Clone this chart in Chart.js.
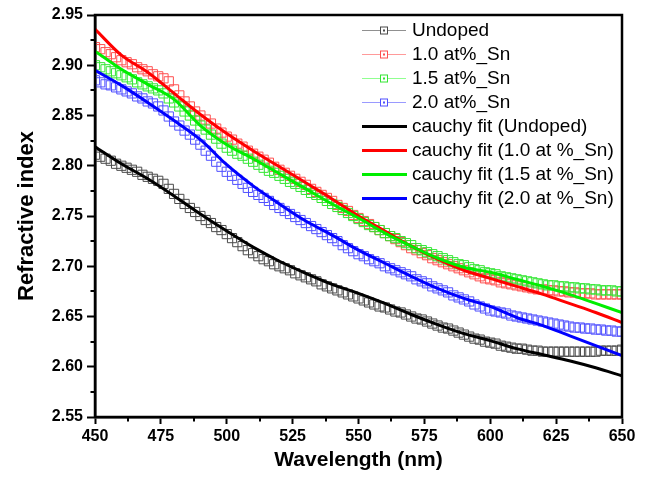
<!DOCTYPE html>
<html>
<head>
<meta charset="utf-8">
<title>Refractive index</title>
<script src="https://cdn.jsdelivr.net/npm/chart.js@4.4.0/dist/chart.umd.min.js"></script>
<style>
  html, body { margin: 0; padding: 0; background: #fff; }
  .chart-wrap { width: 650px; height: 477px; position: relative; }
</style>
</head>
<body>
<div class="chart-wrap"><canvas class="js-graph"></canvas></div>
<script>
'use strict';

// measured data, every 2 nm
const wavelengths = [
  450,452,454,456,458,460,462,464,466,468,470,472,474,476,478,480,482,484,486,488,
  490,492,494,496,498,500,502,504,506,508,510,512,514,516,518,520,522,524,526,528,
  530,532,534,536,538,540,542,544,546,548,550,552,554,556,558,560,562,564,566,568,
  570,572,574,576,578,580,582,584,586,588,590,592,594,596,598,600,602,604,606,608,
  610,612,614,616,618,620,622,624,626,628,630,632,634,636,638,640,642,644,646,648,650
];

const undoped = [
  2.811,2.809,2.807,2.805,2.802,2.800,2.798,2.796,2.794,2.791,2.789,2.787,2.785,2.782,2.777,2.772,2.767,2.762,2.758,2.754,
  2.750,2.746,2.743,2.739,2.736,2.732,2.728,2.724,2.720,2.716,2.713,2.710,2.707,2.705,2.702,2.700,2.698,2.696,2.693,2.691,
  2.689,2.687,2.685,2.682,2.680,2.678,2.676,2.674,2.672,2.670,2.668,2.666,2.664,2.662,2.660,2.659,2.657,2.655,2.654,2.652,
  2.650,2.648,2.647,2.645,2.643,2.641,2.639,2.638,2.636,2.634,2.632,2.630,2.628,2.627,2.625,2.624,2.623,2.621,2.620,2.619,
  2.618,2.618,2.617,2.616,2.616,2.615,2.615,2.615,2.615,2.615,2.615,2.615,2.615,2.615,2.615,2.615,2.616,2.616,2.616,2.616,2.617
];

const sn10 = [
  2.918,2.916,2.913,2.911,2.908,2.905,2.903,2.901,2.898,2.896,2.894,2.891,2.889,2.887,2.884,2.876,2.870,2.864,2.859,2.854,
  2.850,2.846,2.842,2.837,2.833,2.829,2.826,2.822,2.819,2.815,2.812,2.809,2.806,2.803,2.799,2.796,2.793,2.790,2.787,2.784,
  2.781,2.777,2.774,2.771,2.768,2.765,2.761,2.758,2.755,2.751,2.748,2.745,2.742,2.739,2.736,2.733,2.730,2.727,2.724,2.721,
  2.718,2.716,2.713,2.711,2.708,2.706,2.704,2.702,2.700,2.698,2.696,2.694,2.692,2.690,2.688,2.687,2.686,2.684,2.683,2.682,
  2.681,2.680,2.679,2.678,2.677,2.677,2.676,2.676,2.675,2.675,2.674,2.674,2.673,2.673,2.673,2.672,2.672,2.672,2.672,2.672,2.672
];

const sn15 = [
  2.900,2.898,2.896,2.894,2.892,2.890,2.888,2.886,2.883,2.881,2.879,2.877,2.875,2.872,2.867,2.863,2.859,2.854,2.850,2.845,
  2.840,2.836,2.831,2.827,2.822,2.818,2.815,2.812,2.810,2.807,2.804,2.801,2.798,2.795,2.793,2.790,2.787,2.784,2.782,2.779,
  2.776,2.773,2.771,2.768,2.765,2.762,2.759,2.756,2.753,2.750,2.747,2.744,2.741,2.739,2.736,2.733,2.730,2.728,2.725,2.723,
  2.721,2.718,2.716,2.714,2.712,2.710,2.708,2.706,2.704,2.702,2.701,2.699,2.697,2.696,2.694,2.693,2.692,2.690,2.689,2.688,
  2.687,2.686,2.685,2.684,2.683,2.682,2.681,2.681,2.680,2.680,2.679,2.679,2.678,2.678,2.677,2.677,2.676,2.676,2.676,2.675,2.675
];

const sn20 = [
  2.885,2.883,2.881,2.880,2.878,2.876,2.874,2.872,2.869,2.867,2.864,2.862,2.859,2.855,2.849,2.844,2.840,2.835,2.831,2.826,
  2.821,2.815,2.810,2.804,2.799,2.794,2.790,2.786,2.782,2.778,2.774,2.771,2.768,2.765,2.761,2.758,2.755,2.752,2.749,2.746,
  2.743,2.740,2.737,2.734,2.731,2.728,2.725,2.721,2.718,2.715,2.712,2.710,2.707,2.705,2.703,2.700,2.698,2.696,2.694,2.692,
  2.690,2.687,2.685,2.683,2.680,2.678,2.676,2.674,2.671,2.669,2.667,2.665,2.662,2.660,2.658,2.656,2.655,2.654,2.653,2.651,
  2.650,2.649,2.648,2.647,2.646,2.645,2.644,2.643,2.642,2.641,2.640,2.639,2.639,2.638,2.638,2.637,2.637,2.636,2.636,2.635,2.635
];

// cauchy fits, every 10 nm
const fitWavelengths = [450,460,470,480,490,500,510,520,530,540,550,560,570,580,590,600,610,620,630,640,650];
const fitUndoped = [2.819,2.802,2.787,2.770,2.752,2.735,2.719,2.705,2.693,2.682,2.673,2.663,2.652,2.642,2.633,2.626,2.618,2.612,2.606,2.599,2.591];
const fitSn10    = [2.936,2.910,2.893,2.872,2.851,2.832,2.815,2.799,2.783,2.767,2.750,2.735,2.720,2.707,2.696,2.688,2.680,2.672,2.663,2.654,2.644];
const fitSn15    = [2.914,2.896,2.881,2.866,2.840,2.821,2.807,2.792,2.777,2.762,2.748,2.733,2.720,2.708,2.699,2.694,2.687,2.680,2.672,2.663,2.654];
const fitSn20    = [2.895,2.880,2.863,2.845,2.826,2.801,2.780,2.762,2.745,2.731,2.716,2.703,2.690,2.678,2.668,2.660,2.649,2.641,2.631,2.621,2.611];

const xMinorTicks = [462.5,487.5,512.5,537.5,562.5,587.5,612.5,637.5];
const yMinorTicks = [2.575,2.625,2.675,2.725,2.775,2.825,2.875,2.925];

const FONT = '"Liberation Sans", Arial, Helvetica, sans-serif';

const toPoints = function(xs, ys) {
    return xs.map((x, i) => ({x: x, y: ys[i]}));
};

const markerSet = function(label, values, color, legendColor, order) {
    return {
        label: label,
        data: toPoints(wavelengths, values),
        showLine: false,
        pointStyle: 'rect',
        pointRadius: 6.5,
        pointBorderWidth: 1,
        pointBorderColor: color,
        pointBackgroundColor: 'rgba(0,0,0,0)',
        borderColor: color,
        legendColor: legendColor,
        legendKind: 'marker',
        clip: 0,
        order: order
    };
};

const fitSet = function(label, values, color, order) {
    return {
        label: label,
        data: toPoints(fitWavelengths, values),
        borderColor: color,
        borderWidth: 3,
        pointRadius: 0,
        cubicInterpolationMode: 'monotone',
        legendColor: color,
        legendKind: 'line',
        order: order
    };
};

// extra axis bits: full frame, minor ticks, legend in the top right corner
const decorPlugin = {
    id: 'decor',
    afterDatasetsDraw(chart) {
        const ctx = chart.ctx;
        const area = chart.chartArea;
        const xs = chart.scales.x;
        const ys = chart.scales.y;
        ctx.save();
        ctx.strokeStyle = '#000';
        ctx.lineWidth = 2.5;
        ctx.strokeRect(area.left, area.top, area.right - area.left, area.bottom - area.top);
        ctx.lineWidth = 2;
        ctx.beginPath();
        for (const v of xMinorTicks) {
            const px = Math.round(xs.getPixelForValue(v));
            ctx.moveTo(px, area.bottom);
            ctx.lineTo(px, area.bottom + 4.5);
        }
        for (const v of yMinorTicks) {
            const py = Math.round(ys.getPixelForValue(v));
            ctx.moveTo(area.left, py);
            ctx.lineTo(area.left - 4.5, py);
        }
        ctx.stroke();

        // legend
        const x0 = area.right - 260;
        const y0 = area.top + 15;
        ctx.font = '19px ' + FONT;
        ctx.textBaseline = 'middle';
        ctx.textAlign = 'left';
        chart.data.datasets.forEach((ds, i) => {
            const y = y0 + i * 24;
            ctx.beginPath();
            if (ds.legendKind === 'marker') {
                ctx.strokeStyle = ds.legendColor;
                ctx.lineWidth = 1;
                ctx.moveTo(x0, y + 0.5);
                ctx.lineTo(x0 + 44, y + 0.5);
                ctx.stroke();
                ctx.fillStyle = '#fff';
                ctx.fillRect(x0 + 18.5, y - 3, 7, 7);
                ctx.strokeStyle = ds.borderColor;
                ctx.strokeRect(x0 + 18.5, y - 3, 7, 7);
                ctx.fillStyle = ds.borderColor;
                ctx.fillRect(x0 + 21, y - 0.5, 2, 2);
            } else {
                ctx.strokeStyle = ds.legendColor;
                ctx.lineWidth = 3;
                ctx.moveTo(x0, y + 0.5);
                ctx.lineTo(x0 + 45, y + 0.5);
                ctx.stroke();
            }
            ctx.fillStyle = '#000';
            ctx.fillText(ds.label, x0 + 50, y + 1);
        });
        ctx.restore();
    }
};

document.addEventListener('DOMContentLoaded', function() {
    const canvas = document.querySelector('.js-graph').getContext('2d');
    new Chart(canvas, {
        type: 'line',
        data: {
            datasets: [
                markerSet('Undoped', undoped, '#4a4a4a', '#909090', 8),
                markerSet('1.0 at%_Sn', sn10, '#ff5050', '#ff9a9a', 7),
                markerSet('1.5 at%_Sn', sn15, '#33e633', '#90ff90', 6),
                markerSet('2.0 at%_Sn', sn20, '#5050ff', '#9a9aff', 5),
                fitSet('cauchy fit (Undoped)', fitUndoped, '#000000', 4),
                fitSet('cauchy fit (1.0 at %_Sn)', fitSn10, '#ff0000', 3),
                fitSet('cauchy fit (1.5 at %_Sn)', fitSn15, '#00ee00', 2),
                fitSet('cauchy fit (2.0 at %_Sn)', fitSn20, '#0000ff', 1)
            ]
        },
        options: {
            responsive: true,
            maintainAspectRatio: false,
            animation: false,
            devicePixelRatio: 1,
            layout: { padding: { top: 15, right: 28, left: 0, bottom: 0 } },
            plugins: {
                legend: { display: false },
                tooltip: { enabled: false }
            },
            scales: {
                x: {
                    type: 'linear',
                    min: 450,
                    max: 650,
                    afterFit: (scale) => { scale.height = 60; },
                    ticks: {
                        stepSize: 25,
                        color: '#000',
                        padding: 3,
                        maxRotation: 0,
                        font: { family: FONT, size: 16, weight: 'bold' }
                    },
                    grid: { drawOnChartArea: false, tickLength: 7, tickWidth: 2, tickColor: '#000' },
                    border: { color: '#000', width: 2.5 },
                    title: {
                        display: true,
                        text: 'Wavelength (nm)',
                        color: '#000',
                        padding: { top: 0, bottom: 4 },
                        font: { family: FONT, size: 21, weight: 'bold' }
                    }
                },
                y: {
                    min: 2.55,
                    max: 2.95,
                    afterFit: (scale) => { scale.width = 95; },
                    ticks: {
                        stepSize: 0.05,
                        color: '#000',
                        padding: 4,
                        font: { family: FONT, size: 16, weight: 'bold' },
                        callback: (v) => Number(v).toFixed(2)
                    },
                    grid: { drawOnChartArea: false, tickLength: 8, tickWidth: 2, tickColor: '#000' },
                    border: { color: '#000', width: 2.5 },
                    title: {
                        display: true,
                        text: 'Refractive index',
                        color: '#000',
                        padding: { top: 14, bottom: 0 },
                        font: { family: FONT, size: 22, weight: 'bold' }
                    }
                }
            }
        },
        plugins: [decorPlugin]
    });
});
</script>
</body>
</html>
